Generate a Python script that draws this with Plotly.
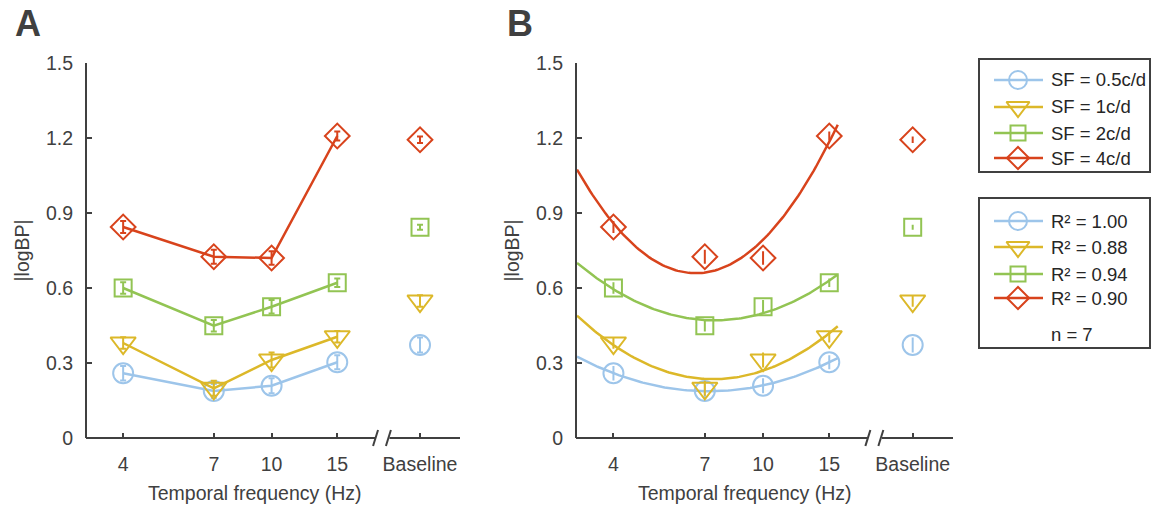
import numpy as np
import plotly.graph_objects as go

# ---------------- data ----------------
freqs = [4, 7, 10, 15]
baseline_x = 25
tick_vals = [4, 7, 10, 15, 25]
tick_text = ["4", "7", "10", "15", "Baseline"]
y_ticks = [0, 0.3, 0.6, 0.9, 1.2, 1.5]
y_ticktext = ["0", "0.3", "0.6", "0.9", "1.2", "1.5"]

sf_labels = ["SF = 0.5c/d", "SF = 1c/d", "SF = 2c/d", "SF = 4c/d"]
r2_labels = ["R\u00b2 = 1.00", "R\u00b2 = 0.88", "R\u00b2 = 0.94", "R\u00b2 = 0.90"]
n_label = "n = 7"

logbp_sf05 = [0.259, 0.188, 0.209, 0.303]
logbp_sf1 = [0.380, 0.199, 0.312, 0.405]
logbp_sf2 = [0.600, 0.449, 0.525, 0.621]
logbp_sf4 = [0.844, 0.725, 0.720, 1.208]

err_sf05 = [0.029, 0.028, 0.030, 0.028]
err_sf1 = [0.023, 0.030, 0.030, 0.023]
err_sf2 = [0.023, 0.023, 0.027, 0.017]
err_sf4 = [0.024, 0.028, 0.027, 0.018]

baseline_vals = [0.372, 0.548, 0.843, 1.193]
baseline_err = [0.030, 0.023, 0.010, 0.013]

# ---------------- styles ----------------
colors = ["#9dc5ea", "#dcb829", "#92c453", "#d8431c"]
symbols = ["circle-open", "triangle-down-open", "square-open", "diamond-open"]
msizes = [20, 22, 17, 19]
AX = "#404040"
FONT = "Liberation Sans, Arial, sans-serif"
W, H = 1154, 508

series = [logbp_sf05, logbp_sf1, logbp_sf2, logbp_sf4]
errs = [err_sf05, err_sf1, err_sf2, err_sf4]

# layout geometry in pixels
panelA = (87, 460)
panelB = (577, 953)
y_top, y_bot = 63, 438
xrange_log = [np.log10(3.2), np.log10(32)]
fit_end_hz = 15.8


def px(x):
    return x / W


def py(y):
    return 1 - y / H


fig = go.Figure()

for p, (xa, ya) in enumerate([("x", "y"), ("x2", "y2")]):
    for i in range(4):
        if p == 0:
            fig.add_trace(go.Scatter(
                x=freqs, y=series[i], xaxis=xa, yaxis=ya, mode="lines+markers",
                line=dict(color=colors[i], width=2.5),
                marker=dict(symbol=symbols[i], size=msizes[i], color=colors[i],
                            line=dict(width=2, color=colors[i])),
                error_y=dict(type="data", array=errs[i], color=colors[i],
                             thickness=2, width=3),
                showlegend=False))
        else:
            u = np.log10(freqs)
            coef = np.polyfit(u, series[i], 2)
            ufit = np.linspace(np.log10(3.2), np.log10(fit_end_hz), 120)
            fig.add_trace(go.Scatter(
                x=10 ** ufit, y=np.polyval(coef, ufit), xaxis=xa, yaxis=ya,
                mode="lines", line=dict(color=colors[i], width=2.5),
                showlegend=False, hoverinfo="skip"))
            fig.add_trace(go.Scatter(
                x=freqs, y=series[i], xaxis=xa, yaxis=ya, mode="markers",
                marker=dict(symbol=symbols[i], size=msizes[i], color=colors[i],
                            line=dict(width=2, color=colors[i])),
                error_y=dict(type="data", array=errs[i], color=colors[i],
                             thickness=2, width=0),
                showlegend=False))
        fig.add_trace(go.Scatter(
            x=[baseline_x], y=[baseline_vals[i]], xaxis=xa, yaxis=ya,
            mode="markers",
            marker=dict(symbol=symbols[i], size=msizes[i], color=colors[i],
                        line=dict(width=2, color=colors[i])),
            error_y=dict(type="data", array=[baseline_err[i]], color=colors[i],
                         thickness=2, width=3 if p == 0 else 0),
            showlegend=False))

# legend sample traces on a pixel overlay axis
leg_rows1 = [80, 107, 133, 158]
leg_rows2 = [221, 247, 274, 298]
for rows in (leg_rows1, leg_rows2):
    for i, ry in enumerate(rows):
        fig.add_trace(go.Scatter(x=[994, 1043], y=[ry, ry], xaxis="x3", yaxis="y3",
                                 mode="lines", line=dict(color=colors[i], width=2.5),
                                 showlegend=False, hoverinfo="skip"))
        fig.add_trace(go.Scatter(x=[1018], y=[ry], xaxis="x3", yaxis="y3",
                                 mode="markers",
                                 marker=dict(symbol=symbols[i], size=msizes[i] - 2,
                                             color=colors[i],
                                             line=dict(width=2, color=colors[i])),
                                 showlegend=False, hoverinfo="skip"))

xaxis_common = dict(type="log", range=xrange_log, tickvals=tick_vals, ticktext=tick_text,
                    ticks="inside", ticklen=5, tickwidth=1.5, tickcolor=AX,
                    showline=False, showgrid=False, zeroline=False,
                    tickfont=dict(family=FONT, size=19.5, color=AX),
                    ticklabelstandoff=12)
yaxis_common = dict(range=[0, 1.5], tickvals=y_ticks, ticktext=y_ticktext,
                    ticks="inside", ticklen=5, tickwidth=1.5, tickcolor=AX,
                    showline=True, linewidth=2, linecolor=AX,
                    showgrid=False, zeroline=False,
                    tickfont=dict(family=FONT, size=19.5, color=AX),
                    ticklabelstandoff=8)

ydom = [py(y_bot), py(y_top)]
fig.update_layout(
    width=W, height=H, margin=dict(l=0, r=0, t=0, b=0, autoexpand=False),
    paper_bgcolor="white", plot_bgcolor="rgba(0,0,0,0)",
    xaxis=dict(domain=[px(panelA[0]), px(panelA[1])], anchor="y", **xaxis_common),
    yaxis=dict(domain=ydom, anchor="x", **yaxis_common),
    xaxis2=dict(domain=[px(panelB[0]), px(panelB[1])], anchor="y2", **xaxis_common),
    yaxis2=dict(domain=ydom, anchor="x2", **yaxis_common),
    xaxis3=dict(domain=[0, 1], range=[0, W], visible=False, fixedrange=True),
    yaxis3=dict(domain=[0, 1], range=[H, 0], visible=False, fixedrange=True),
    showlegend=False,
)

shapes = []
annotations = []
# broken x axis lines
brk0, brk1 = np.log10(19.0), np.log10(20.7)
for (x0, x1) in (panelA, panelB):
    def fx(u):
        return x0 + (u - xrange_log[0]) / (xrange_log[1] - xrange_log[0]) * (x1 - x0)
    b0, b1 = fx(brk0), fx(brk1)
    shapes.append(dict(type="line", xref="paper", yref="paper", x0=px(x0 - 1), x1=px(b0),
                       y0=py(y_bot), y1=py(y_bot), line=dict(color=AX, width=2)))
    shapes.append(dict(type="line", xref="paper", yref="paper", x0=px(b1), x1=px(x1),
                       y0=py(y_bot), y1=py(y_bot), line=dict(color=AX, width=2)))
    for b in (b0, b1 - 1):
        shapes.append(dict(type="line", xref="paper", yref="paper",
                           x0=px(b - 2.5), x1=px(b + 2.5), y0=py(y_bot + 8), y1=py(y_bot - 8),
                           line=dict(color=AX, width=2)))
    # titles
    annotations.append(dict(text="Temporal frequency (Hz)", xref="paper", yref="paper",
                            x=px(x0 + 168), y=py(493), xanchor="center", yanchor="middle",
                            showarrow=False, font=dict(family=FONT, size=19.5, color=AX)))
    annotations.append(dict(text="|logBP|", xref="paper", yref="paper",
                            x=px(x0 - 66), y=py((y_top + y_bot) / 2), textangle=-90,
                            xanchor="center", yanchor="middle",
                            showarrow=False, font=dict(family=FONT, size=19.5, color=AX)))

for lbl, xx in (("<b>A</b>", 28), ("<b>B</b>", 520)):
    annotations.append(dict(text=lbl, xref="paper", yref="paper", x=px(xx), y=py(23),
                            xanchor="center", yanchor="middle",
                            showarrow=False, font=dict(family=FONT, size=36, color=AX)))

# legend boxes
for (t, b) in ((59, 172), (198, 348)):
    shapes.append(dict(type="rect", xref="paper", yref="paper", x0=px(979), x1=px(1150),
                       y0=py(b), y1=py(t), line=dict(color=AX, width=2)))
leg_font = dict(family=FONT, size=18.5, color="#262626")
for lbl, ry in zip(sf_labels + r2_labels + [n_label], leg_rows1 + leg_rows2 + [334]):
    annotations.append(dict(text=lbl, xref="paper", yref="paper", x=px(1049), y=py(ry),
                            xanchor="left", yanchor="middle", showarrow=False,
                            font=leg_font))

fig.update_layout(shapes=shapes, annotations=annotations)
fig.write_html("out.html")
